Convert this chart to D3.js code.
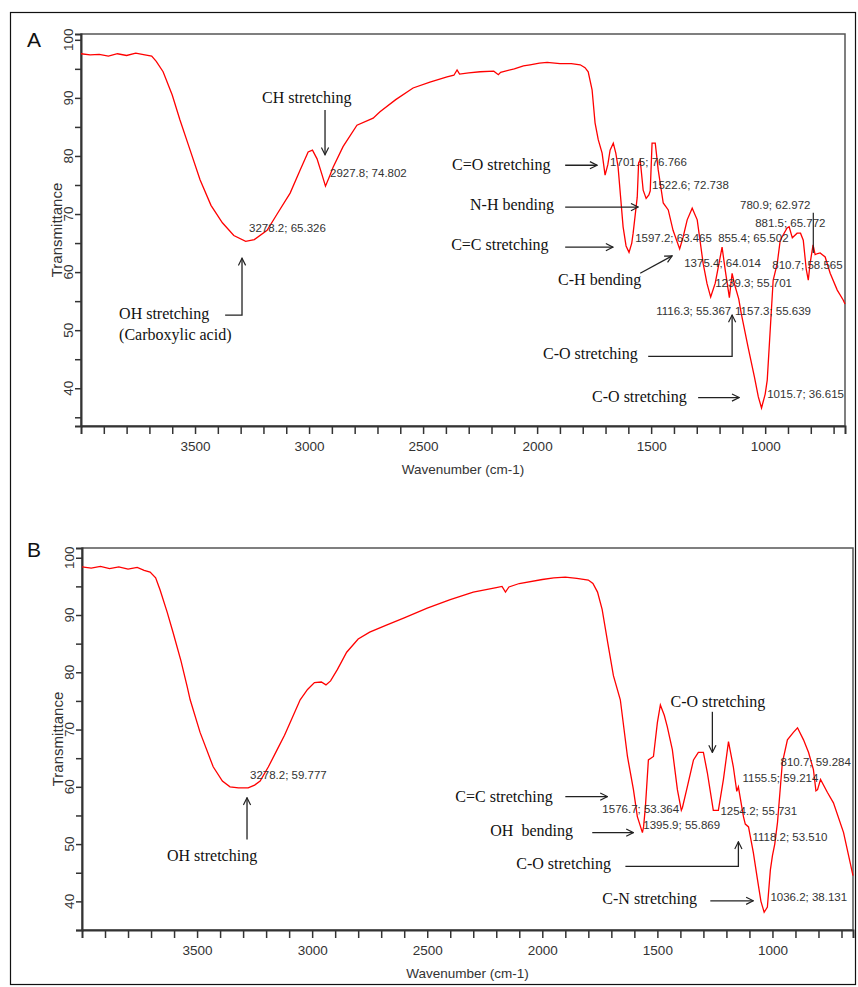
<!DOCTYPE html>
<html><head><meta charset="utf-8">
<script src="https://cdn.jsdelivr.net/npm/d3@7"></script>
<style>body{margin:0;background:#fff}svg{display:block}</style>
</head><body><svg id="c" width="858" height="987"></svg>
<script>
// ---------- DATA ----------
const waveA = [4000,3960,3920,3880,3840,3800,3760,3720,3690,3670,3640,3600,3566,3530,3478,3430,3380,3330,3278,3240,3184,3140,3083,3040,3004,2985,2965,2945,2928,2910,2895,2851,2790,2719,2689,2620,2544,2470,2395,2365,2351,2340,2300,2250,2190,2170,2160,2100,2060,2031,1990,1956,1900,1850,1811,1790,1776,1759,1746,1732,1715,1702,1690,1680,1666,1655,1645,1623,1610,1597,1585,1579,1561,1555,1548,1535,1522,1510,1504,1496,1482,1469,1447,1425,1404,1375,1360,1342,1320,1298,1272,1255,1239,1219,1200,1189,1175,1157,1145,1135,1116,1105,1075,1047,1030,1016,1000,991,978,965,947,934,904,895,881,860,845,833,820,811,803,790,781,770,759,737,715,684,658,650];
const transA = [97.6,97.4,97.5,97.2,97.6,97.3,97.7,97.4,97.2,96.3,94.5,90.5,86.2,82,75.9,71.5,68.5,66.3,65.3,65.6,67.2,70,73.6,77.5,80.7,81,79.5,77,74.8,76.5,78,81.6,85.3,86.5,87.6,89.7,91.7,92.7,93.6,93.9,94.8,94.1,94.3,94.5,94.6,94.0,94.4,95.0,95.5,95.7,96.0,96.1,95.9,95.9,95.7,95.2,94.5,91.4,85.7,82.8,80.5,76.7,78.5,81,82.2,80.5,78.1,67.8,64.5,63.4,65,66.7,72.9,78.8,79.3,74.1,72.7,73.3,74,82.2,82.2,77.6,71.9,70.7,67.2,64.0,66,69,71,69,61.5,58,55.7,58.1,62,64.3,60.3,55.6,59.8,58,55.4,52.9,47.1,41.9,38.5,36.6,39,41.4,50,58.6,61.5,65.5,67.6,67.8,65.9,66.7,66.7,65.5,60.5,58.6,61.5,64.7,63.0,63.2,63.3,62.6,59.8,56.9,55.2,54.5];

const waveB = [4000,3960,3920,3880,3840,3800,3760,3730,3704,3680,3661,3630,3604,3570,3543,3530,3487,3430,3390,3357,3320,3278,3250,3226,3190,3152,3120,3096,3052,3020,2990,2960,2940,2920,2890,2850,2800,2750,2680,2600,2500,2400,2300,2200,2175,2160,2145,2100,2000,1950,1900,1850,1800,1780,1760,1740,1715,1691,1661,1630,1604,1587,1576,1565,1560,1552,1539,1517,1500,1487,1470,1457,1435,1413,1396,1391,1370,1343,1322,1300,1283,1257,1235,1213,1191,1170,1155,1148,1126,1118,1104,1083,1065,1050,1036,1022,1009,1000,990,978,957,935,909,891,865,843,822,811,804,791,761,735,691,650];
const transB = [98.4,98.2,98.5,98.1,98.4,98.0,98.3,97.8,97.5,96.5,94.4,90.5,86.9,82,77.5,75.2,69.5,63.5,61,60,59.8,59.8,60.3,61,63.5,66.5,69,71.2,75.2,77,78.2,78.3,77.8,78.5,80.5,83.5,85.8,87,88.2,89.5,91.2,92.7,94,94.8,95,94,94.9,95.5,96.2,96.5,96.6,96.4,96.1,95.5,94,91,85,79.4,75.2,65.3,59.5,54.8,53.4,52,53,56.5,64.7,65.3,71.2,74.3,72.5,70.5,66.5,59.5,55.9,56.4,60,64.7,66,66,62.5,55.9,55.9,61.3,67.9,63.5,59.2,60,54.8,53.5,53,48.5,43.8,40,38.1,39,45.5,48,50,53.8,64.2,68.2,69.5,70.3,68.2,66,63,59.3,59.5,61.3,59,57.2,52,44.5];

const xTickValues = [3900,3800,3700,3600,3500,3400,3300,3200,3100,3000,2900,2800,2700,2600,2500,2400,2300,2200,2100,2000,1900,1800,1700,1600,1500,1400,1300,1200,1100,1000,900,800,700];
const yTickValues = [35,40,45,50,55,60,65,70,75,80,85,90,95,100];
const yLabelValues = [40,50,60,70,80,90,100];
const xLabel = "Wavenumber (cm-1)";
const yLabel = "Transmittance";

// value labels: [text, wavenumber, transmittance] (text start position in data space)
const valuesA = [
 ["3278.2; 65.326",3263,67.6],["2927.8; 74.802",2908,77.1],["1701.5; 76.766",1680,79.0],
 ["1522.6; 72.738",1496,75.0],["1597.2; 63.465",1570,65.9],["1375.4; 64.014",1355,61.6],
 ["855.4; 65.502",1206,65.9],["1239.3; 55.701",1219,58.1],["780.9; 62.972",1110,71.6],
 ["881.5; 65.772",1044,68.4],["810.7; 58.565",969,61.2],["1116.3; 55.367",1478,53.3],
 ["1157.3; 55.639",1132,53.3],["1015.7; 36.615",991,39.0]
];
const valuesB = [
 ["3278.2; 59.777",3270,62.0],["1576.7; 53.364",1739,56.2],["1395.9; 55.869",1561,53.4],
 ["1254.2; 55.731",1226,55.8],["1155.5; 59.214",1130,61.6],["810.7; 59.284",965,64.4],
 ["1118.2; 53.510",1087,51.3],["1036.2; 38.131",1009,40.7]
];
// band labels: [text, wavenumber, transmittance, anchor]
const bandsA = [
 ["CH stretching",3206,90.0,"start"],["OH stretching",3833,52.9,"start"],["(Carboxylic acid)",3833,49.3,"start"],
 ["C=O stretching",2373,78.6,"start"],["N-H bending",2294,71.6,"start"],["C=C stretching",2377,64.7,"start"],
 ["C-H bending",1908,58.8,"start"],["C-O stretching",1974,45.9,"start"],["C-O stretching",1759,38.6,"start"]
];
const bandsB = [
 ["OH stretching",3435,48.0,"middle"],["C-O stretching",1443,74.9,"start"],["C=C stretching",2378,58.3,"start"],
 ["OH  bending",2226,52.4,"start"],["C-O stretching",2113,46.6,"start"],["C-N stretching",1739,40.5,"start"]
];
// arrows: polyline points [[w,T],...], last point gets arrowhead
const arrowsA = [
 [[2930,87.9],[2930,80.2]],
 [[3368,52.6],[3294,52.6],[3294,62.4]],
 [[1877,78.4],[1737,78.4]],
 [[1877,71.2],[1557,71.2]],
 [[1877,64.3],[1667,64.3]],
 [[1548,59.8],[1408,62.8]],
 [[1513,45.5],[1145,45.5],[1145,52.6]],
 [[1294,38.4],[1114,38.4]]
];
const leadersA = [[[789,70.2],[789,63.3]]];
const arrowsB = [
 [[3283,50.8],[3283,58.1]],
 [[1261,73.1],[1261,66.0]],
 [[1900,58.3],[1717,58.3]],
 [[1783,52.0],[1604,52.0]],
 [[1639,46.1],[1148,46.1],[1148,50.4]],
 [[1270,40.1],[1083,40.1]]
];

// ---------- DRAW ----------
const svg = d3.select('#c');
svg.append('rect').attr('x',10.5).attr('y',12.5).attr('width',845).attr('height',972)
  .attr('fill','none').attr('stroke','#111').attr('stroke-width',1.2);

const defs = svg.append('defs');
defs.append('marker').attr('id','ah').attr('viewBox','0 0 10 10').attr('refX',9).attr('refY',5)
  .attr('markerWidth',9).attr('markerHeight',9).attr('markerUnits','userSpaceOnUse').attr('orient','auto')
  .append('path').attr('d','M1,1 L9,5 L1,9').attr('fill','none').attr('stroke','#222').attr('stroke-width',1.3);

function panel(cfg){
  const x = d3.scaleLinear().domain([4000,650]).range([cfg.l,cfg.r]);
  const y = d3.scaleLinear().domain(cfg.yd).range([cfg.b,cfg.t]);
  const g = svg.append('g');
  g.append('rect').attr('x',cfg.l).attr('y',cfg.t).attr('width',cfg.r-cfg.l).attr('height',cfg.b-cfg.t)
    .attr('fill','none').attr('stroke','#555').attr('stroke-width',1.5);
  const xa = g.append('g').attr('transform',`translate(0,${cfg.b})`)
    .call(d3.axisBottom(x).tickValues(xTickValues).tickSize(8).tickPadding(7).tickFormat(d=> d%500===0? d : ''));
  const ya = g.append('g').attr('transform',`translate(${cfg.l},0)`)
    .call(d3.axisLeft(y).tickValues(yTickValues.filter(v=>v>=cfg.yd[0])).tickSize(6).tickFormat(''));
  [xa,ya].forEach(a=>{
    a.select('.domain').attr('stroke','#333').attr('stroke-width',2);
    a.selectAll('.tick line').attr('stroke','#333').attr('stroke-width',1.5);
    a.selectAll('.tick text').attr('font-family','Liberation Sans, Arial, sans-serif').attr('font-size',13.5).attr('fill','#333');
  });
  g.selectAll('.ylab').data(yLabelValues).join('text')
    .attr('transform',d=>`translate(${cfg.l-13},${y(d)}) rotate(-90)`)
    .attr('text-anchor','middle').attr('dominant-baseline','central')
    .attr('font-family','Liberation Sans, Arial, sans-serif').attr('font-size',13.5).attr('fill','#333').text(d=>d);
  g.append('text').attr('x',(cfg.l+cfg.r)/2).attr('y',cfg.b+43).attr('text-anchor','middle')
    .attr('dominant-baseline','central').attr('font-family','Liberation Sans, Arial, sans-serif')
    .attr('font-size',13.5).attr('fill','#333').text(xLabel);
  g.append('text').attr('transform',`translate(${cfg.l-25},${(cfg.t+cfg.b)/2}) rotate(-90)`)
    .attr('text-anchor','middle').attr('dominant-baseline','central').attr('font-family','Liberation Sans, Arial, sans-serif')
    .attr('font-size',15).attr('fill','#333').text(yLabel);
  g.append('text').attr('x',cfg.lx).attr('y',cfg.ly).attr('font-family','Liberation Sans, Arial, sans-serif')
    .attr('font-size',21).attr('fill','#111').text(cfg.letter);

  const pts = cfg.wave.map((w,i)=>[w,cfg.trans[i]]);
  g.append('path').datum(pts).attr('fill','none').attr('stroke','#ff0000').attr('stroke-width',1.3)
    .attr('d',d3.line().x(d=>x(d[0])).y(d=>y(d[1])));

  g.selectAll('.val').data(cfg.values).join('text')
    .attr('x',d=>x(d[1])).attr('y',d=>y(d[2])).attr('dominant-baseline','central')
    .attr('font-family','Liberation Sans, Arial, sans-serif').attr('font-size',11.5).attr('fill','#333').text(d=>d[0]);
  g.selectAll('.band').data(cfg.bands).join('text')
    .attr('x',d=>x(d[1])).attr('y',d=>y(d[2])).attr('dominant-baseline','central').attr('text-anchor',d=>d[3])
    .attr('font-family','Liberation Serif, Times New Roman, serif').attr('font-size',16).attr('fill','#111')
    .attr('xml:space','preserve').style('white-space','pre').text(d=>d[0]);
  const ln = d3.line().x(d=>x(d[0])).y(d=>y(d[1]));
  g.selectAll('.arr').data(cfg.arrows).join('path').attr('d',ln).attr('fill','none')
    .attr('stroke','#222').attr('stroke-width',1.3).attr('marker-end','url(#ah)');
  g.selectAll('.lead').data(cfg.leaders||[]).join('path').attr('d',ln).attr('fill','none')
    .attr('stroke','#222').attr('stroke-width',1.2);
}

panel({l:81,r:845,t:34,b:426,yd:[33.5,101],wave:waveA,trans:transA,values:valuesA,bands:bandsA,arrows:arrowsA,leaders:leadersA,letter:'A',lx:27,ly:47});
panel({l:82,r:853,t:548,b:930,yd:[35,101.7],wave:waveB,trans:transB,values:valuesB,bands:bandsB,arrows:arrowsB,letter:'B',lx:27,ly:557});
</script></body></html>
